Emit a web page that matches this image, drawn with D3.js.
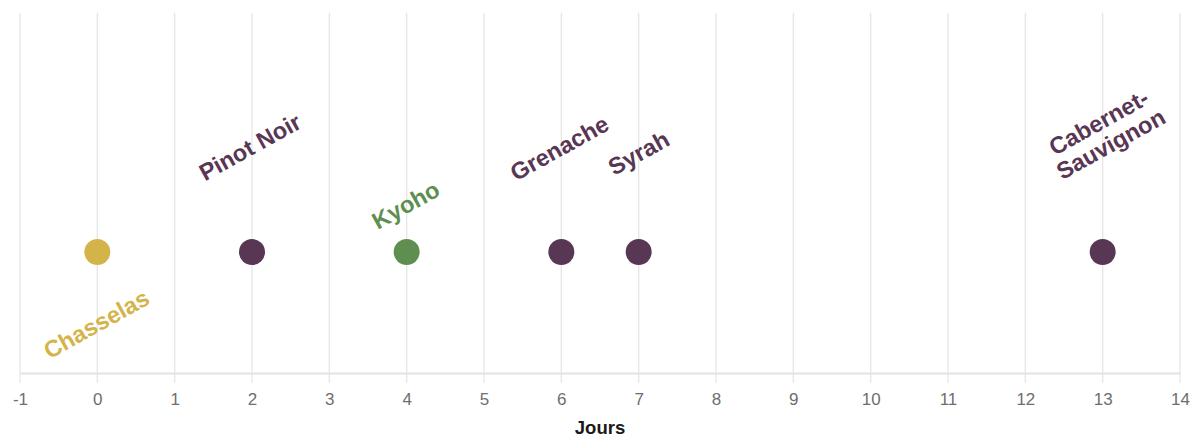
<!DOCTYPE html>
<html><head><meta charset="utf-8">
<script src="https://cdn.jsdelivr.net/npm/d3@7"></script>
<style>body{margin:0;background:#fff;} text{font-family:"Liberation Sans",Arial,sans-serif;}</style>
</head><body>
<svg id="c" width="1195" height="439"></svg>
<script>
const categories = ["Chasselas","Pinot Noir","Kyoho","Grenache","Syrah","Cabernet-Sauvignon"];
const days = [0,2,4,6,7,13];
const groups = ["blanc","rouge","table","rouge","rouge","rouge"];
const tickValues = [-1,0,1,2,3,4,5,6,7,8,9,10,11,12,13,14];
const axisTitle = "Jours";

const colors = {blanc:"#d4b44a", rouge:"#583654", table:"#5e8f50"};
// label layout (offset from dot centre, px)
const labelLayout = {
  "Chasselas":{dx:-1,dy:72},
  "Pinot Noir":{dx:-2,dy:-105},
  "Kyoho":{dx:-1,dy:-47},
  "Grenache":{dx:-2,dy:-104},
  "Syrah":{dx:0,dy:-99},
  "Cabernet-Sauvignon":{dx:2,dy:-119}
};

const svg = d3.select("#c");
const x = d3.scaleLinear().domain([-1,14]).range([20,1180]);
const gridTop = 13, axisY = 373, dotY = 252;

const g = svg.append("g");
g.selectAll("line.grid").data(tickValues).join("line")
  .attr("x1",d=>x(d)).attr("x2",d=>x(d)).attr("y1",gridTop).attr("y2",axisY+10)
  .attr("stroke","#e6e6e6").attr("stroke-width",1.3);

const axis = d3.axisBottom(x).tickValues(tickValues).tickSize(0).tickPadding(20).tickFormat(d=>String(d));
const ag = svg.append("g").attr("transform",`translate(0,${axisY})`).call(axis);
ag.select(".domain").attr("stroke","#e3e3e3").attr("stroke-width",2);
ag.selectAll("text").attr("fill","#6e6e6e").attr("font-size",17).style("font-family","Liberation Sans, Arial, sans-serif");

svg.append("text").attr("x",x(6.5)).attr("y",434).attr("text-anchor","middle")
  .attr("font-size",18.5).attr("font-weight","bold").attr("fill","#1a1a1a").text(axisTitle);

const data = categories.map((c,i)=>({name:c, day:days[i], group:groups[i]}));

svg.selectAll("circle.dot").data(data).join("circle")
  .attr("cx",d=>x(d.day)).attr("cy",dotY).attr("r",13)
  .attr("fill",d=>colors[d.group]);

const lbl = svg.selectAll("text.lbl").data(data).join("text")
  .attr("class","lbl")
  .attr("transform",d=>{const o=labelLayout[d.name];return `translate(${x(d.day)+o.dx},${dotY+o.dy}) rotate(-29)`;})
  .attr("text-anchor","middle").attr("font-size",23.5).attr("font-weight","bold")
  .attr("fill",d=>colors[d.group]);
lbl.each(function(d){
  const parts = d.name.includes("-") ? [d.name.split("-")[0]+"-", d.name.split("-")[1]] : [d.name];
  const t = d3.select(this);
  parts.forEach((p,i)=>{
    t.append("tspan").attr("x",0).attr("dy", i===0 ? (0.35-(parts.length-1)*0.53)+"em" : "1.06em").text(p);
  });
});
</script>
</body></html>
